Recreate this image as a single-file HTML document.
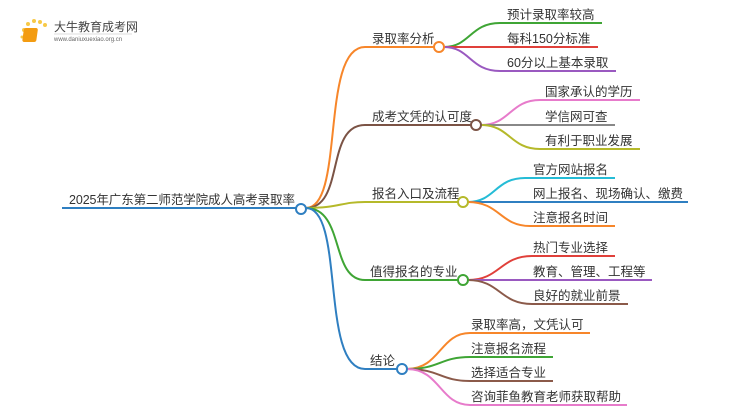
<!DOCTYPE html>
<html><head><meta charset="utf-8"><style>
body{margin:0;background:#fff;width:750px;height:410px;overflow:hidden}
text{font-family:"Liberation Sans","Noto Sans CJK SC",sans-serif;fill:#333}
</style></head><body>
<svg width="750" height="410" viewBox="0 0 750 410" xmlns="http://www.w3.org/2000/svg" fill="none" stroke-width="2">
<g>
<circle cx="24" cy="30" r="2" fill="#f7c948" stroke="none"/><circle cx="28" cy="24" r="2" fill="#f7c948" stroke="none"/><circle cx="34" cy="21" r="2" fill="#f7c948" stroke="none"/><circle cx="40" cy="22" r="2" fill="#f7c948" stroke="none"/><circle cx="45" cy="25" r="2" fill="#f7c948" stroke="none"/><circle cx="22" cy="37" r="1.5" fill="#f7c948" stroke="none"/>
<rect x="28" y="28" width="14" height="14" rx="2" fill="#f39c12" stroke="none" transform="skewX(-8)"/>
<text x="54" y="31" font-size="12" style="fill:#444">大牛教育成考网</text>
<text x="54" y="41" font-size="6" style="fill:#666">www.daniuxuexiao.org.cn</text>
<line x1="54" y1="34" x2="132" y2="34" stroke="#ddd" stroke-width="1"/>
</g>
<text x="69" y="204" font-size="12.5" textLength="226">2025年广东第二师范学院成人高考录取率</text>
<path d="M62 208H296" stroke="#2f7fc1"/>
<path d="M306 208C345 208 320 47 365 47H434" stroke="#f7862a"/>
<path d="M306 208C345 208 325 125 365 125H471" stroke="#7b5345"/>
<path d="M306 208C340 208 340 202 365 202H458" stroke="#b5b92a"/>
<path d="M306 208C345 208 330 280 365 280H458" stroke="#3fa535"/>
<path d="M306 208C345 208 320 369 365 369H397" stroke="#2f7fc1"/>
<text x="372" y="43" font-size="12.5">录取率分析</text>
<text x="372" y="121" font-size="12.5">成考文凭的认可度</text>
<text x="372" y="198" font-size="12.5">报名入口及流程</text>
<text x="370" y="276" font-size="12.5">值得报名的专业</text>
<text x="370" y="365" font-size="12.5">结论</text>
<path d="M444 47C470 47 470 23 500 23H602" stroke="#3fa535"/>
<path d="M444 47H598" stroke="#e0403a"/>
<path d="M444 47C470 47 470 71 500 71H616" stroke="#9a59c0"/>
<text x="507" y="19" font-size="12.5">预计录取率较高</text>
<text x="507" y="43" font-size="12.5">每科150分标准</text>
<text x="507" y="67" font-size="12.5">60分以上基本录取</text>
<path d="M481 125C510 125 510 100 540 100H640" stroke="#e77bcb"/>
<path d="M481 125H615" stroke="#888"/>
<path d="M481 125C510 125 510 149 540 149H640" stroke="#b5b92a"/>
<text x="545" y="96" font-size="12.5">国家承认的学历</text>
<text x="545" y="121" font-size="12.5">学信网可查</text>
<text x="545" y="145" font-size="12.5">有利于职业发展</text>
<path d="M468 202C495 202 495 178 525 178H615" stroke="#25bcd6"/>
<path d="M468 202H688" stroke="#2f7fc1"/>
<path d="M468 202C500 202 500 226 530 226H615" stroke="#f7862a"/>
<text x="533" y="174" font-size="12.5">官方网站报名</text>
<text x="533" y="198" font-size="12.5">网上报名、现场确认、缴费</text>
<text x="533" y="222" font-size="12.5">注意报名时间</text>
<path d="M468 280C500 280 500 256 532 256H615" stroke="#e0403a"/>
<path d="M468 280H652" stroke="#9a59c0"/>
<path d="M468 280C500 280 500 304 532 304H628" stroke="#8b5a4a"/>
<text x="533" y="252" font-size="12.5">热门专业选择</text>
<text x="533" y="276" font-size="12.5">教育、管理、工程等</text>
<text x="533" y="300" font-size="12.5">良好的就业前景</text>
<path d="M407 369C440 369 440 333 470 333H590" stroke="#f7862a"/>
<path d="M407 369C440 369 440 357 470 357H553" stroke="#3fa535"/>
<path d="M407 369C440 369 440 381 470 381H553" stroke="#8b5a4a"/>
<path d="M407 369C440 369 440 405 470 405H627" stroke="#e77bcb"/>
<text x="471" y="329" font-size="12.5">录取率高，文凭认可</text>
<text x="471" y="353" font-size="12.5">注意报名流程</text>
<text x="471" y="377" font-size="12.5">选择适合专业</text>
<text x="471" y="401" font-size="12.5">咨询菲鱼教育老师获取帮助</text>
<circle cx="301" cy="209" r="5" fill="#fff" stroke="#2f7fc1"/>
<circle cx="439" cy="47" r="5" fill="#fff" stroke="#f7862a"/>
<circle cx="476" cy="125" r="5" fill="#fff" stroke="#7b5345"/>
<circle cx="463" cy="202" r="5" fill="#fff" stroke="#b5b92a"/>
<circle cx="463" cy="280" r="5" fill="#fff" stroke="#3fa535"/>
<circle cx="402" cy="369" r="5" fill="#fff" stroke="#2f7fc1"/>
</svg>
</body></html>
